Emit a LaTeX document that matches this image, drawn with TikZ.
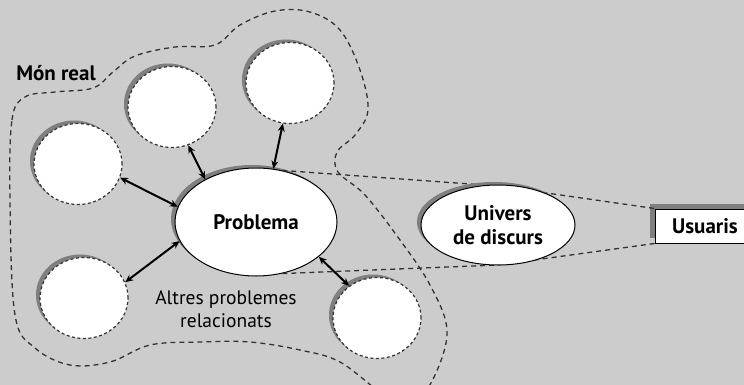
\documentclass[tikz,border=0pt]{standalone}
\usepackage{fontspec}
\setmainfont{PT Sans}
\usetikzlibrary{arrows.meta, shapes.geometric, shadows}
\definecolor{bggray}{HTML}{CCCCCC}
\definecolor{shgray}{HTML}{7F7F7F}
\definecolor{dgray}{HTML}{333333}

\begin{document}
\begin{tikzpicture}[x=1pt, y=-1pt,
  lbl/.style={font=\fontsize{21}{24}\selectfont\bfseries, align=center},
  sh/.style={general shadow={fill=shgray, shadow xshift=-4pt, shadow yshift=3pt}},
  prob/.style={ellipse, draw=black, fill=white, line width=1pt, inner sep=0pt, sh, lbl},
  circ/.style={ellipse, draw=dgray, fill=white, line width=1.2pt,
               dash pattern=on 3pt off 2.5pt, inner sep=0pt,
               minimum width=88pt, minimum height=81pt, sh},
  usr/.style={rectangle, draw=black, fill=white, line width=1pt, inner sep=0pt,
              minimum width=100pt, minimum height=34pt, lbl,
              general shadow={fill=shgray, shadow xshift=-5pt, shadow yshift=5pt}},
  limit/.style={draw=dgray, line width=1.3pt, dash pattern=on 5pt off 4pt},
  a/.style={{Stealth[length=8pt,width=7pt]}-{Stealth[length=8pt,width=7pt]}, line width=2pt}]
  \fill[bggray] (0,0) rectangle (744,385);
  \clip (0,0) rectangle (744,385);
  % real world
  \draw[limit] plot[smooth cycle, tension=0.6] coordinates {
    (10,200) (12,120) (25,97) (55,92) (93,88) (113,72) (135,56) (175,47)
    (215,45) (240,25) (275,11) (310,12) (340,30) (360,70) (368,110) (355,135)
    (337,152) (338,172) (365,195) (400,240) (430,285) (447,330) (435,375)
    (415,400) (385,395) (340,362) (300,350) (250,342) (200,342) (150,345)
    (110,362) (70,365) (35,348) (15,315)};
  \node[lbl] (mr) at (56,73) {Món real};
  \node[font=\fontsize{19.5}{23}\selectfont, align=center] (alt) at (226,309)
    {Altres problemes\\relacionats};
  % problems
  \node[prob, minimum width=162pt, minimum height=108pt] (pb) at (256,222) {Problema};
  \node[circ] (c1) at (78,164) {};
  \node[circ] (c2) at (172,107) {};
  \node[circ] (c3) at (290,83) {};
  \node[circ] (c4) at (84,298) {};
  \node[circ] (c5) at (377,318) {};
  % users
  \node[usr] (us) at (705,226) {Usuaris};
  \coordinate (ut) at (498,186);
  \coordinate (ub) at (498,265);
  \draw[limit] (pb.63) -- (ut) -- (us.north west);
  \draw[limit] (pb.-63) -- (ub) -- (us.south west);
  \node[prob, minimum width=154pt, minimum height=80pt] (ud) at (498,225) {Univers\\de discurs};
  \draw[a] (c1.-18) -- (pb.169);
  \draw[a] (c2.-67) -- (pb.140);
  \draw[a] (c3.-100) -- (pb.72);
  \draw[a] (c4.21) -- (pb.194);
  \draw[a] (c5.131) -- (pb.-29);
\end{tikzpicture}
\end{document}
